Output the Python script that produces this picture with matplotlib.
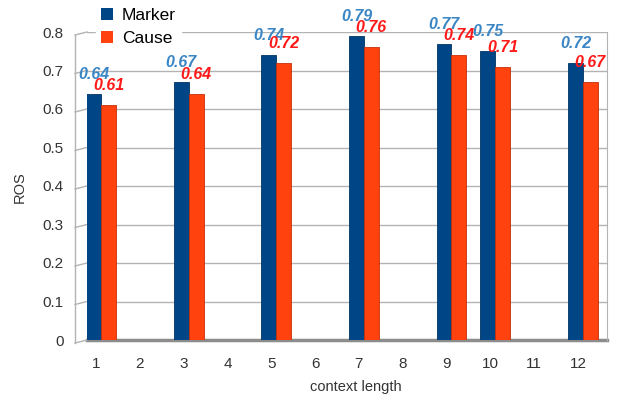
import matplotlib
matplotlib.use("Agg")
import matplotlib.pyplot as plt
import matplotlib.transforms as mtransforms
from matplotlib.patches import Patch
import numpy as np

plt.rcParams['font.family'] = ['Liberation Sans', 'DejaVu Sans']

# data
context_length = [1, 2, 3, 4, 5, 6, 7, 8, 9, 10, 11, 12]
marker = [0.64, None, 0.67, None, 0.74, None, 0.79, None, 0.77, 0.75, None, 0.72]
cause = [0.61, None, 0.64, None, 0.72, None, 0.76, None, 0.74, 0.71, None, 0.67]
yticks = [0, 0.1, 0.2, 0.3, 0.4, 0.5, 0.6, 0.7, 0.8]

blue = "#004586"
orange = "#ff420e"
blue_txt = "#3b86c4"
red_txt = "#ff1a1a"

fig = plt.figure(figsize=(6.17, 3.99), dpi=100)
ax = fig.add_axes([87 / 617, 1 - 340 / 399, 520 / 617, 308 / 399])

x = np.array(context_length, dtype=float)
m = np.array([np.nan if v is None else v for v in marker])
c = np.array([np.nan if v is None else v for v in cause])
w = 0.34

ax.bar(x - w / 2, m, w, color=blue, edgecolor="#003563", linewidth=0.6, zorder=3)
ax.bar(x + w / 2, c, w, color=orange, edgecolor="#c5300a", linewidth=0.6, zorder=3)

for xi, v in zip(x, m):
    if not np.isnan(v):
        ax.annotate(f"{v:.2f}", (xi - w / 2, v), xytext=(0, 14), textcoords="offset points",
                    ha="center", va="center", color=blue_txt, fontsize=11.5,
                    fontweight="bold", fontstyle="italic", zorder=5)
for xi, v in zip(x, c):
    if not np.isnan(v):
        ax.annotate(f"{v:.2f}", (xi + w / 2, v), xytext=(0, 14), textcoords="offset points",
                    ha="center", va="center", color=red_txt, fontsize=11.5,
                    fontweight="bold", fontstyle="italic", zorder=5)

ax.set_xlim(0.68, 12.55)
ax.set_ylim(0, 0.8)
ax.set_yticks(yticks)
ax.set_yticklabels(["0" if t == 0 else f"{t:.1f}" for t in yticks])
ax.set_xticks(context_length)
ax.set_xticklabels([str(v) for v in context_length])
ax.tick_params(axis="both", length=0, labelsize=11, colors="#333333")
ax.tick_params(axis="y", pad=17)
ax.tick_params(axis="x", pad=12)

# shift x labels a bit left (3d projection look)
shift = mtransforms.ScaledTranslation(-5 / 100, 0, fig.dpi_scale_trans)
for lab in ax.get_xticklabels():
    lab.set_transform(lab.get_transform() + shift)

ax.grid(axis="y", color="#b3b3b3", linewidth=1, zorder=0)
for s in ["left", "bottom", "top"]:
    ax.spines[s].set_visible(False)
ax.spines["right"].set_color("#b3b3b3")

# floor and left wall
ax.axhline(0, color="#8c8c8c", linewidth=2.5, zorder=2, clip_on=False)
dx = -12 / 520
dy = -3 / 308
for t in yticks:
    yy = t / 0.8
    ax.plot([dx, 0], [yy + dy, yy], transform=ax.transAxes, color="#b3b3b3",
            linewidth=1, clip_on=False)
ax.plot([dx, dx], [dy, 1 + dy], transform=ax.transAxes, color="#b3b3b3",
        linewidth=1, clip_on=False)

fig.text(356 / 617, 1 - 387 / 399, "context length", ha="center", va="center",
         fontsize=10.5, color="#333333")
fig.text(20 / 617, 1 - 187 / 399, "ROS", ha="center", va="center", rotation=90,
         fontsize=10.5, color="#333333")

handles = [Patch(facecolor=blue, edgecolor="none", label="Marker"),
           Patch(facecolor=orange, edgecolor="none", label="Cause")]
fig.legend(handles=handles, loc="upper left", bbox_to_anchor=(96 / 617, 1 - 3 / 399),
           frameon=True, facecolor="white", edgecolor="white", framealpha=1,
           fontsize=12.5, handlelength=0.7, handleheight=0.7, handletextpad=0.5,
           labelspacing=0.45, borderpad=0.3, borderaxespad=0)

fig.savefig("out.png", dpi=100)
